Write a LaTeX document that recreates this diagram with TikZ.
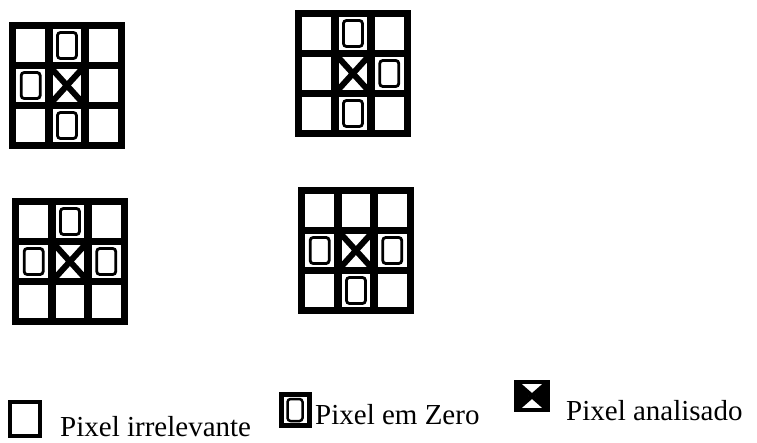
\documentclass[tikz,border=0pt]{standalone}
\usepackage{fontspec}
\setmainfont{Liberation Serif}
\usepackage{tikz}
\usetikzlibrary{positioning,calc}

\begin{document}
\begin{tikzpicture}[
  x=1pt,y=-1pt,
  cell/.style={draw,line width=7.5pt,outer sep=0pt,inner sep=0pt,minimum width=36.3pt,minimum height=40pt},
  zero/.style={draw,line width=2.8pt,rounded corners=3pt,outer sep=0pt,inner sep=0pt,minimum width=19pt,minimum height=26pt},
  cross/.style={line width=6pt},
  legbox/.style={draw,outer sep=0pt,inner sep=0pt},
  legtext/.style={font=\fontsize{29}{32}\selectfont,inner sep=0pt,anchor=base west},
]
\useasboundingbox (0,0) rectangle (757,443);
% four 3x3 neighbourhoods (a b / c d)
\foreach \gx/\gy/\g in {12.5/25.5/a, 298.5/13.5/b, 15.5/201.5/c, 301.5/190.5/d}
  \foreach \r in {0,1,2}
    \foreach \c in {0,1,2}
      \node[cell] (\g\r\c) at (\gx+36.3*\c+18.15, \gy+40*\r+20) {};
% pixels at zero
\foreach \z in {a01,a10,a21,b01,b12,b21,c01,c10,c12,d10,d12,d21}
  \node[zero] (\z z) at (\z) {};
% analysed pixel
\foreach \g in {a,b,c,d}
  \draw[cross] (\g11.north west) -- (\g11.south east) (\g11.north east) -- (\g11.south west);

% legend
\node[legbox,line width=4pt,minimum width=30pt,minimum height=34pt] (lgempty) at (25,419) {};
\node[legtext] (txtempty) at (60,436) {Pixel irrelevante};
\node[legbox,line width=5pt,minimum width=28pt,minimum height=31pt] (lgzero) at (295,410) {};
\node[zero,minimum width=15pt,minimum height=22pt,line width=2.5pt] (lgzeroin) at (lgzero) {};
\node[legtext] (txtzero) at (315,424) {Pixel em Zero};
\node[legbox,line width=4.5pt,minimum width=32pt,minimum height=28pt] (lgx) at (532,396) {};
\fill (lgx.north west) -- ($(lgx.center)+(-3,0)$) -- (lgx.south west) -- cycle
      (lgx.north east) -- ($(lgx.center)+(3,0)$) -- (lgx.south east) -- cycle;
\draw[line width=4.5pt] (lgx.north west) -- (lgx.south east) (lgx.north east) -- (lgx.south west);
\node[legtext] (txtx) at (566,420) {Pixel analisado};
\end{tikzpicture}
\end{document}
